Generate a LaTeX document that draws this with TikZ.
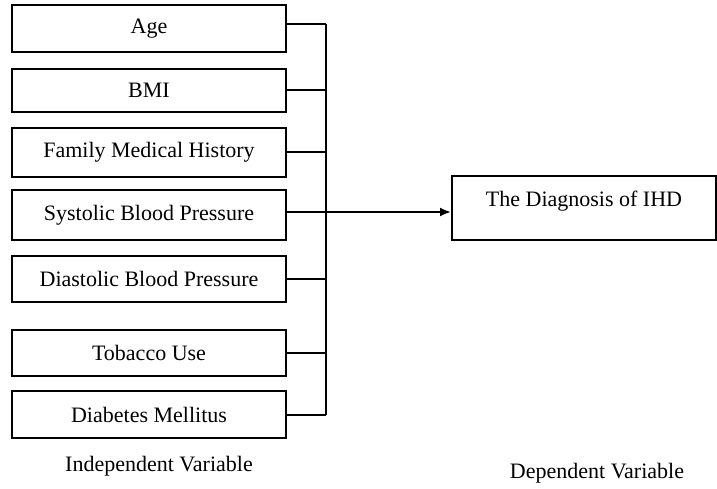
\documentclass[tikz,border=0pt]{standalone}
\usepackage{fontspec}
\setmainfont{Liberation Serif}
\usepackage{tikz}
\usetikzlibrary{positioning,calc,arrows.meta}

\tikzset{
  varbox/.style={draw, line width=2pt, minimum width=274pt, inner sep=4pt},
  link/.style={line width=2pt},
}

\begin{document}
\begin{tikzpicture}[x=1pt, y=-1pt, font=\fontsize{22}{26}\selectfont]
        \useasboundingbox (0,0) rectangle (717,489);

        % independent variables
        \node[varbox, minimum height=47pt] (age) at (149,28.5) {Age};
        \node[varbox, minimum height=43pt] (bmi) at (149,90.5) {BMI};
        \node[varbox, minimum height=49pt] (fam) at (149,152.5) {Family Medical History};
        \node[varbox, minimum height=50pt] (sys) at (149,215) {Systolic Blood Pressure};
        \node[varbox, minimum height=46pt] (dia) at (149,279) {Diastolic Blood Pressure};
        \node[varbox, minimum height=46pt] (tob) at (149,353) {Tobacco Use};
        \node[varbox, minimum height=47pt] (dm) at (149,414.5) {Diabetes Mellitus};

        % dependent variable
        \node[draw, line width=2pt, minimum width=264pt, inner sep=4pt,
              text height=26pt, text depth=29pt] (ihd) at (584,208) {The Diagnosis of IHD};

        \coordinate (bus) at (326,0);

        \draw[link] ([yshift=4pt]age.east) -- ([yshift=4pt]age.east -| bus);
        \draw[link] (bmi.east) -- (bmi.east -| bus);
        \draw[link] (fam.east) -- (fam.east -| bus);
        \draw[link] (dia.east) -- (dia.east -| bus);
        \draw[link] (tob.east) -- (tob.east -| bus);
        \draw[link] (dm.east) -- (dm.east -| bus);
        \draw[link] ([yshift=4pt]age.east -| bus) -- (dm.east -| bus);

        \draw[link, -{Latex[length=11pt,width=9pt]}] ([yshift=3pt]sys.east) -- ([yshift=3pt]sys.east -| ihd.west);

        \node (indep) at (159,466) {Independent Variable};
        \node (dep) at (597,473) {Dependent Variable};
\end{tikzpicture}
\end{document}
